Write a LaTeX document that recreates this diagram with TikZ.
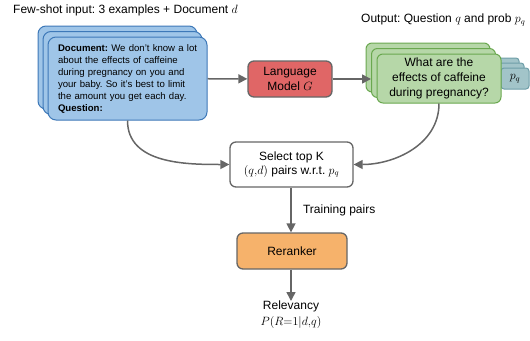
\documentclass[tikz,border=0pt]{standalone}
\usepackage{fontspec}
\setmainfont{Liberation Serif}
\setsansfont{Liberation Sans}
\usetikzlibrary{arrows.meta}
\definecolor{docfill}{HTML}{9FC5E8}
\definecolor{docline}{HTML}{3D78B8}
\definecolor{qfill}{HTML}{B6D7A8}
\definecolor{qline}{HTML}{6AA84F}
\definecolor{pfill}{HTML}{A2C4C9}
\definecolor{pline}{HTML}{6E9EA8}
\definecolor{lmfill}{HTML}{E06666}
\definecolor{rrfill}{HTML}{F6B26B}
\definecolor{edge}{HTML}{666666}
\tikzset{
  card/.style={draw=docline, fill=docfill, rounded corners=8pt, line width=1pt,
    minimum width=159pt, minimum height=83pt, inner sep=0pt},
  qcard/.style={draw=qline, fill=qfill, rounded corners=6pt, line width=1pt,
    minimum width=124pt, minimum height=49pt, inner sep=0pt, align=center},
  pcard/.style={draw=pline, fill=pfill, rounded corners=3pt, line width=1pt,
    minimum width=28pt, minimum height=21pt, inner sep=0pt},
  box/.style={draw=edge, rounded corners=6pt, line width=1.3pt, align=center,
    inner sep=0pt},
  flow/.style={draw=edge, line width=1.5pt, -{Triangle[length=9pt,width=9pt]}}
}
\frenchspacing
\begin{document}
\begin{tikzpicture}[x=1pt, y=-1pt, font=\sffamily\fontsize{12}{15}\selectfont]
\useasboundingbox (0,0) rectangle (530,340);
% titles
\node [anchor=west, inner sep=0pt] (fewshot) at (13, 10) {Few-shot input: 3 examples + Document $d$};
\node [anchor=west, inner sep=0pt] (output) at (361, 20) {Output: Question $q$ and prob $p_q$};
% input cards
\node [card] (doc3) at (117.5, 67.5) {};
\node [card] (doc2) at (122.5, 73) {};
\node [card, text width=139pt, align=left, font=\sffamily\fontsize{9.6}{12}\selectfont] (doc) at (127.5, 78.5)
  {\mbox{\textbf{Document:} We don't know a lot}\\about the effects of caffeine\\during pregnancy on you and\\your baby. So it's best to limit\\the amount you get each day.\\\textbf{Question:}};
% language model
\node [box, fill=lmfill, minimum width=84pt, minimum height=36pt] (lm) at (290, 79) {Language\\Model $G$};
% output cards
\node [pcard] (p3) at (505, 68.5) {};
\node [pcard] (p2) at (510, 73.5) {};
\node [pcard] (p) at (515, 78.5) {$p_q$};
\node [qcard] (q3) at (428, 67.5) {};
\node [qcard] (q2) at (433.5, 73) {};
\node [qcard] (q) at (439, 78.5) {What are the\\effects of caffeine\\during pregnancy?};
% selection and reranker
\node [box, fill=white, minimum width=123pt, minimum height=45pt, font=\sffamily\fontsize{12}{14}\selectfont] (select) at (291.5, 164.5) {Select top K\\$(q{,}d)$ pairs w.r.t. $p_q$};
\node [box, fill=rrfill, minimum width=110pt, minimum height=36pt] (rerank) at (292, 251) {Reranker};
\node [align=center, anchor=north, inner sep=0pt, font=\sffamily\fontsize{12}{16}\selectfont] (relev) at (291, 301) {Relevancy\\$P(R{=}1|d{,}q)$};
% connectors
\draw [flow] (doc) -- (lm);
\draw [flow] (lm) -- (q2.west |- lm);
\draw [flow] (doc.south) to[out=-90, in=180] (select.west);
\draw [flow] (q.south) to[out=-90, in=0] (select.east);
\draw [flow] (select.south -| 291, 0) -- node [right, xshift=8pt] {Training pairs} (rerank.north -| 291, 0);
\draw [flow] (rerank.south -| 291, 0) -- (relev.north);
\end{tikzpicture}
\end{document}
